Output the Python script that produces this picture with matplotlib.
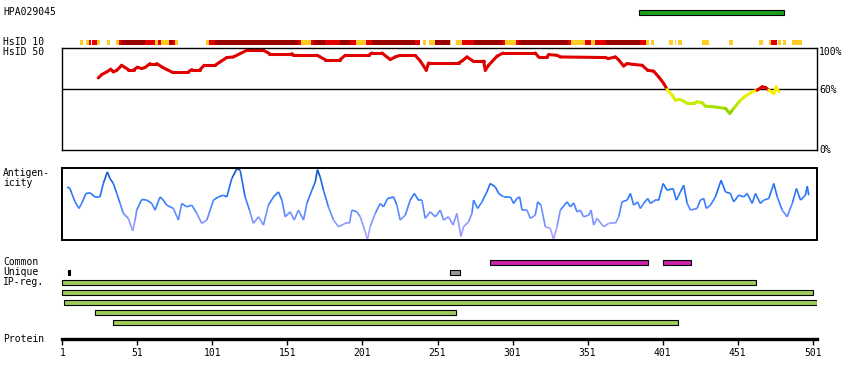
import numpy as np
import matplotlib
matplotlib.use('Agg')
import matplotlib.pyplot as plt
from matplotlib.collections import LineCollection
from matplotlib.colors import LinearSegmentedColormap, Normalize

plt.rcParams['font.family'] = ['DejaVu Sans Mono']
plt.rcParams['font.size'] = 7

antibody = "HPA029045"
protein_len = 504
hpa_start, hpa_end = 385, 482

# HsID 10 strip segments (residue start, end, level: y weak, r medium, d high)
strip_start = [13, 17, 19, 21, 24, 31, 37, 39, 41, 56, 63, 65, 67, 72, 73, 74, 76,
               97, 99, 103, 158, 160, 167, 169, 176, 186, 193, 197, 203, 207, 236,
               241, 245, 249, 259, 263, 267, 275, 294, 296, 303, 305, 338, 340, 347,
               349, 353, 356, 363, 386, 390, 393, 405, 409, 411, 427, 445, 465, 472,
               473, 478, 481, 487]
strip_end = [15, 19, 20, 24, 26, 33, 39, 41, 56, 63, 65, 67, 72, 73, 74, 76, 78,
             99, 103, 158, 160, 167, 169, 176, 186, 193, 197, 203, 207, 236, 239,
             243, 249, 259, 260, 267, 275, 294, 296, 303, 305, 338, 340, 347, 349,
             353, 356, 363, 386, 390, 392, 395, 408, 410, 414, 432, 448, 468, 473,
             477, 480, 483, 494]
strip_level = ['y', 'y', 'r', 'r', 'y', 'y', 'y', 'r', 'd', 'r', 'y', 'r', 'y', 'r', 'd', 'r', 'y',
               'y', 'r', 'd', 'r', 'y', 'r', 'd', 'r', 'd', 'r', 'y', 'r', 'd', 'r',
               'y', 'y', 'd', 'y', 'y', 'r', 'd', 'r', 'y', 'r', 'd', 'r', 'y', 'y',
               'r', 'y', 'r', 'd', 'r', 'y', 'y', 'y', 'y', 'y', 'y', 'y', 'y', 'y',
               'r', 'y', 'y', 'y']

# HsID 50 identity curve (%)
hs_res = [25, 27.3, 30.6, 33.3, 35, 37.3, 40.6, 42.8, 45, 48.8, 51, 53.9, 56.1, 59.5, 63.9,
          67.3, 70.6, 73.9, 85, 87.3, 92.8, 95.5, 102.8, 106.1, 110.6, 115, 119.5, 123.9,
          135, 139, 153.9, 155, 170.6, 172.8, 176.1, 186.1, 189.5, 205, 207.3, 213.9,
          219.5, 222.8, 226.1, 236.1, 239.5, 243.5, 245, 265, 267.3, 270.6, 274.6, 281.7,
          282.8, 285, 290.6, 294.6, 316.1, 318.3, 323.9, 325, 330.6, 332.8, 362.8, 364.8,
          369.5, 371.5, 375, 377.3, 380.6, 387.3, 391, 395, 398.3, 401.7, 403.9, 407.3,
          409.5, 412.3, 414.6, 417.3, 421.7, 423.9, 427.3, 429.5, 435, 442.8, 445.7,
          448.3, 452.8, 456.1, 460.6, 463.9, 467.3, 469.5, 471.7, 475, 476.8, 478.3]
hs_pct = [70.9, 74.2, 76.8, 79.4, 76.8, 78.4, 83.3, 81.1, 79.1, 79.1, 81.4, 80.1, 81.1, 85, 85,
          81.7, 79.1, 76.8, 76.8, 79.1, 79.1, 83.3, 83.3, 86.6, 90.9, 91.5, 94.8, 98,
          98, 94.8, 94.8, 93.1, 93.1, 91.5, 88.9, 88.9, 93.1, 93.1, 95.4, 95.4,
          88.9, 91.5, 93.1, 93.1, 87.5, 78.4, 85.6, 85.6, 87.5, 91.5, 87.5, 87.5,
          78.4, 83.3, 92.2, 95.4, 95.4, 91.5, 91.5, 93.8, 93.1, 91.5, 90.9, 89.9,
          91.5, 88.9, 82.6, 85, 84.3, 83.3, 78.4, 77.5, 71.9, 65.4, 59.5, 53.9,
          49, 49.7, 48.3, 45.8, 45.8, 47.4, 46.4, 43.1, 42.5, 40.9, 36,
          40.9, 49, 52.9, 57.2, 58.8, 62.1, 61.5, 58.8, 55.6, 62.1, 57.2]

# Antigenicity profile (% of panel height)
ag_res = [4.3, 6.1, 7.3, 9.5, 12.1, 13.9, 16.8, 19.5, 22.8, 26.1, 28.3, 31, 32.8, 35, 37.3,
          39.5, 41.7, 45, 47.9, 49.5, 50.6, 53.9, 57.3, 60.6, 62.8, 66.1, 68.3, 70.6, 75,
          78.3, 80.6, 83.9, 87.3, 90.6, 93.9, 97.3, 101.7, 105, 108.3, 110.6, 113.9, 117.3,
          119.5, 122.8, 125.7, 128.3, 131.7, 135, 138.3, 141.7, 145, 147.3, 149.5, 152.8,
          155.5, 158.3, 161.7, 163.9, 167.3, 169.5, 171, 172.8, 175, 178.3, 181.7, 185,
          189.5, 192.3, 193.9, 197.3, 199.5, 202.8, 204.3, 206.1, 209.5, 212.8, 215, 217.7,
          221.7, 223.9, 226.1, 229.5, 232.8, 235.5, 238.3, 240.6, 242.8, 246.1, 249.5,
          252.8, 255, 258.3, 261.3, 263.9, 266.6, 268.3, 271.7, 273.9, 275, 277.7, 280.6,
          283.9, 286.1, 289.5, 291.7, 295, 299.5, 301.7, 303.9, 305.7, 307.3, 310.6, 312.8,
          316.1, 317.7, 319.9, 322.8, 326.1, 328.3, 330.6, 332.8, 337.3, 339.5, 341.7,
          343.9, 346.1, 348.3, 351.7, 353.3, 355, 357.3, 361.7, 365, 369.5, 371.7, 373.9,
          377.3, 379.5, 381.7, 384.3, 386.1, 388.3, 391, 392.8, 396.1, 398.3, 401.3, 403.9,
          407.9, 410.1, 412.8, 415, 417.3, 419.5, 423.9, 426.1, 428.3, 430.1, 432.8, 436.1,
          439.9, 442.8, 446.1, 448.3, 451.7, 455, 457.3, 460.6, 462.8, 466.1, 468.3, 471.7,
          475, 477.3, 480.6, 483.9, 487.3, 490.1, 492.8, 496.1, 497.3, 498.3]
ag_val = [74, 71.8, 64.9, 53.2, 44, 51, 64.9, 65.7, 60.1, 60.1, 78.8, 94.9, 85.7, 78.8, 64.9,
          51, 37.1, 30.1, 12.9, 27.8, 41.7, 56.5, 55.6, 51, 41.7, 60.1, 55.6, 48.6, 44,
          27.8, 51, 46.2, 48.6, 37.1, 23.2, 27.8, 55.6, 60.1, 62.5, 60.1, 85.7, 99.6,
          97.2, 60.1, 41.7, 23.2, 32.4, 20.8, 48.6, 60.1, 67.1, 55.6, 32.4, 39.3,
          27.8, 41.7, 27.8, 51, 69.4, 81, 98.2, 87.9, 69.4, 46.2, 27.8, 18.5,
          23.2, 23.2, 41.7, 39.3, 32.4, 11.5, 0, 18.5, 37.1, 51, 46.2, 57.9,
          60.1, 48.6, 27.8, 34.7, 55.6, 64.9, 55.6, 55.6, 30.1, 39.3, 32.4,
          41.7, 27.8, 32.4, 20.8, 37.1, 4.6, 18.5, 25.4, 37.1, 55.6, 44, 53.2,
          67.1, 78.8, 74, 64.9, 60.1, 60.1, 51, 57.9, 60.1, 41.7, 41.7, 30.1,
          34.7, 53.2, 48.6, 18.5, 16.2, 1, 18.5, 41.7, 53.2, 46.2, 51.8,
          39.3, 41.7, 32.4, 34.7, 41.7, 20.8, 30.1, 18.5, 23.2, 23.2, 32.4, 53.2,
          55.6, 64.9, 48.6, 53.2, 44, 51, 57.9, 51, 55.6, 55.6, 78.8, 69.4,
          71.8, 55.6, 67.1, 76.4, 51, 41.7, 44, 55.6, 57.9, 44, 48.6, 60.1,
          83.3, 67.1, 64.9, 53.2, 62.5, 60.1, 64.9, 51, 64.9, 51, 55.6, 57.9,
          78.8, 60.1, 41.7, 32.4, 51, 71.8, 55.6, 62.5, 75, 62.5]

# region tracks
common_start = [286, 401]
common_end = [391, 420]
unique_start = [5, 259]
unique_end = [6, 266]
ip_start = [1, 1, 2, 23, 35]
ip_end = [463, 501, 504, 263, 411]
tick_vals = [1, 51, 101, 151, 201, 251, 301, 351, 401, 451, 501]

W, H = 850, 380
fig = plt.figure(figsize=(W / 100, H / 100), dpi=100)
L, R = 62.3, 817.3


def px_axes(top, bottom, left=L, right=R):
    ax = fig.add_axes([left / W, 1 - bottom / H, (right - left) / W, (bottom - top) / H])
    ax.set_xlim(1, protein_len)
    ax.set_xticks([])
    ax.set_yticks([])
    return ax


def label(x, y, s, **kw):
    fig.text(x / W, 1 - y / H, s, va='center', ha='left', **kw)


# antibody bar on top
ax = px_axes(10, 14.6)
ax.barh(0.5, hpa_end - hpa_start, left=hpa_start, height=1, color='#1f9e1f',
        edgecolor='black', linewidth=0.8, clip_on=False)
ax.set_ylim(0, 1)
ax.axis('off')
label(3, 12, antibody)

# HsID 10 strip
strip_colors = {'y': '#ffcc22', 'r': '#e00000', 'd': '#990000'}
ax = px_axes(40, 45.3)
ax.barh([0.5] * len(strip_start), np.array(strip_end) - np.array(strip_start),
        left=strip_start, height=1, color=[strip_colors[c] for c in strip_level],
        linewidth=0)
ax.set_ylim(0, 1)
ax.axis('off')
label(3, 42, 'HsID 10')
label(3, 52, 'HsID 50')

# HsID 50 panel
ax = px_axes(48.3, 150)
ax.set_ylim(0, 100)
for s in ax.spines.values():
    s.set_linewidth(1.0)
ax.axhline(60, color='black', lw=1.0)
pts = np.column_stack([hs_res, hs_pct])
segs = np.stack([pts[:-1], pts[1:]], axis=1)
low_cmap = LinearSegmentedColormap.from_list('low', ['#7ccc00', '#ccf000', '#ffee00'])
seg_col = []
for a, b in zip(hs_pct[:-1], hs_pct[1:]):
    m = (a + b) / 2
    seg_col.append('#e00000' if m >= 60 else low_cmap(Normalize(35, 60)(m)))
ax.add_collection(LineCollection(segs, colors=seg_col, linewidths=2.2, capstyle='round'))
label(819, 52, '100%')
label(819, 90, '60%')
label(819, 150, '0%')

# Antigenicity panel
ax = px_axes(168.3, 240)
ax.set_ylim(0, 100)
for s in ax.spines.values():
    s.set_linewidth(1.4)
pts = np.column_stack([ag_res, ag_val])
segs = np.stack([pts[:-1], pts[1:]], axis=1)
ag_cmap = LinearSegmentedColormap.from_list('ag', ['#b4a8ff', '#8c98ff', '#3a80ff',
                                                   '#1f6ef0', '#0a4fb0'])
mids = (np.array(ag_val[:-1]) + np.array(ag_val[1:])) / 2
ax.add_collection(LineCollection(segs, colors=ag_cmap(mids / 100), linewidths=1.2))
label(3, 173, 'Antigen-')
label(3, 183, 'icity')

# region tracks and protein axis
ax = px_axes(257.3, 339.3)
ax.set_ylim(7.7, -0.5)
ax.barh([0] * len(common_start), np.array(common_end) - np.array(common_start),
        left=common_start, height=0.45, color='#cc22aa', edgecolor='black', linewidth=0.8)
ax.barh([1] * len(unique_start), np.array(unique_end) - np.array(unique_start),
        left=unique_start, height=0.45, color=['black', '#999999'], edgecolor='black',
        linewidth=0.8)
ax.barh(np.arange(2, 2 + len(ip_start)), np.array(ip_end) - np.array(ip_start),
        left=ip_start, height=0.45, color='#9dcc5a', edgecolor='black', linewidth=0.8)
for side in ['top', 'left', 'right']:
    ax.spines[side].set_visible(False)
ax.spines['bottom'].set_linewidth(2.4)
ax.set_xticks(tick_vals)
ax.set_xticklabels([str(t) for t in tick_vals])
ax.tick_params(axis='x', length=4, width=1, pad=2, labelsize=7)
label(3, 262, 'Common')
label(3, 272, 'Unique')
label(3, 282, 'IP-reg.')
label(3, 339, 'Protein')

fig.savefig('out.png', dpi=100, facecolor='white')
